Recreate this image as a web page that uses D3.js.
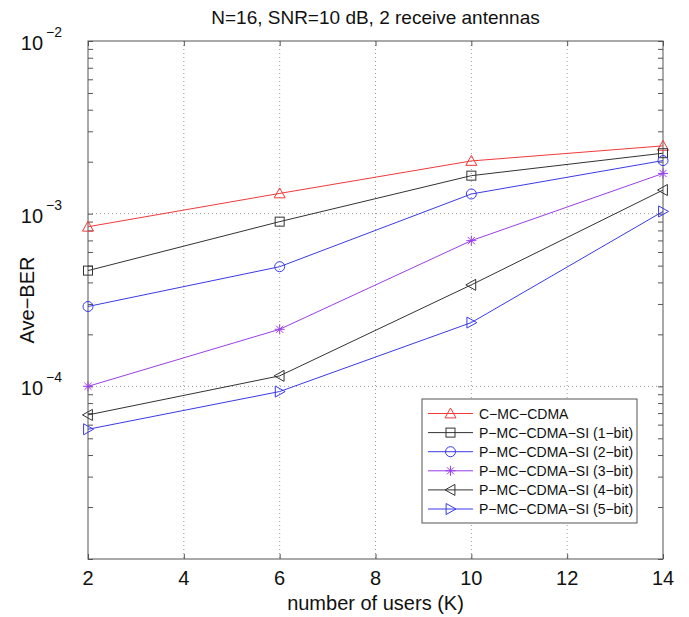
<!DOCTYPE html>
<html>
<head>
<meta charset="utf-8">
<script src="https://cdn.jsdelivr.net/npm/d3@7"></script>
<style>
  html, body { margin: 0; padding: 0; background: #fff; }
  text { font-family: "Liberation Sans", Arial, sans-serif; }
</style>
</head>
<body>
<svg id="chart" width="689" height="617"></svg>
<script>
// ---- data ----
const users = [2, 6, 10, 14];
const xTicks = [2, 4, 6, 8, 10, 12, 14];
const yDecades = [-5, -4, -3, -2];
const yTickLabels = ["", "−4", "−3", "−2"];
const seriesNames = [
  "C−MC−CDMA",
  "P−MC−CDMA−SI (1−bit)",
  "P−MC−CDMA−SI (2−bit)",
  "P−MC−CDMA−SI (3−bit)",
  "P−MC−CDMA−SI (4−bit)",
  "P−MC−CDMA−SI (5−bit)"
];
const cMcCdma = [8.4e-4, 1.31e-3, 2.02e-3, 2.47e-3];
const bit1 = [4.68e-4, 8.99e-4, 1.66e-3, 2.24e-3];
const bit2 = [2.9e-4, 4.93e-4, 1.30e-3, 2.03e-3];
const bit3 = [1.0e-4, 2.14e-4, 6.98e-4, 1.71e-3];
const bit4 = [6.83e-5, 1.15e-4, 3.87e-4, 1.37e-3];
const bit5 = [5.64e-5, 9.33e-5, 2.34e-4, 1.03e-3];
const seriesValues = [cMcCdma, bit1, bit2, bit3, bit4, bit5];
const seriesColors = ["#f03a3a", "#333333", "#3a3ae8", "#9b3ee8", "#333333", "#3a3ae8"];
const seriesMarkers = ["triUp", "square", "circle", "star", "triLeft", "triRight"];

// ---- layout ----
const L = 88, R = 663, T = 41, B = 559;
const svg = d3.select("#chart");
const x = d3.scaleLinear().domain([2, 14]).range([L, R]);
const y = d3.scaleLog().domain([1e-5, 1e-2]).range([B, T]);
const axisColor = "#555";

// grid
const g = svg.append("g");
g.selectAll(".vg").data(xTicks.slice(1, -1)).enter().append("line")
  .attr("x1", d => x(d)).attr("x2", d => x(d)).attr("y1", T).attr("y2", B)
  .attr("stroke", "#999").attr("stroke-width", 1).attr("stroke-dasharray", "1,3");
g.selectAll(".hg").data([-4, -3]).enter().append("line")
  .attr("x1", L).attr("x2", R).attr("y1", d => y(Math.pow(10, d))).attr("y2", d => y(Math.pow(10, d)))
  .attr("stroke", "#999").attr("stroke-width", 1).attr("stroke-dasharray", "1,3");

// axes with inward ticks
const axB = d3.axisBottom(x).tickValues(xTicks).tickSize(-5).tickFormat("");
const axT = d3.axisTop(x).tickValues(xTicks).tickSize(-5).tickFormat("");
const minorVals = [];
yDecades.forEach(e => { for (let m = 1; m <= 9; m++) { const v = m * Math.pow(10, e); if (v >= 1e-5 && v <= 1e-2) minorVals.push(v); } });
const axL = d3.axisLeft(y).tickValues(minorVals).tickSize(-5).tickFormat("");
const axR = d3.axisRight(y).tickValues(minorVals).tickSize(-5).tickFormat("");
[[axB, `translate(0,${B})`], [axT, `translate(0,${T})`], [axL, `translate(${L},0)`], [axR, `translate(${R},0)`]].forEach(([a, tr]) => {
  const ga = svg.append("g").attr("transform", tr).call(a);
  ga.select(".domain").remove();
  ga.selectAll("line").attr("stroke", axisColor);
});
svg.append("rect").attr("x", L).attr("y", T).attr("width", R - L).attr("height", B - T)
  .attr("fill", "none").attr("stroke", axisColor).attr("stroke-width", 1);

// x tick labels
svg.selectAll(".xl").data(xTicks).enter().append("text")
  .attr("x", d => x(d)).attr("y", 585).attr("text-anchor", "middle")
  .attr("font-size", 20).attr("fill", "#111").text(d => d);

// y tick labels
yDecades.forEach((e, i) => {
  if (!yTickLabels[i]) return;
  const yy = y(Math.pow(10, e));
  const t = svg.append("text").attr("x", 62).attr("y", yy + 9).attr("text-anchor", "end")
    .attr("font-size", 20).attr("fill", "#111");
  t.append("tspan").text("10");
  t.append("tspan").attr("dx", 3).attr("dy", -13).attr("font-size", 14).text(yTickLabels[i]);
});

// title and axis labels
svg.append("text").attr("x", (L + R) / 2).attr("y", 24).attr("text-anchor", "middle")
  .attr("font-size", 19).attr("fill", "#111").text("N=16, SNR=10 dB, 2 receive antennas");
svg.append("text").attr("x", (L + R) / 2).attr("y", 610).attr("text-anchor", "middle")
  .attr("font-size", 20).attr("fill", "#111").text("number of users (K)");
svg.append("text").attr("transform", `translate(34,${(T + B) / 2}) rotate(-90)`)
  .attr("text-anchor", "middle").attr("font-size", 20).attr("fill", "#111").text("Ave−BER");

// markers
function drawMarker(sel, type, color, cx, cy) {
  const s = 5.5;
  let el;
  if (type === "triUp") {
    el = sel.append("path").attr("d", `M${cx},${cy - s}L${cx + s},${cy + s * 0.8}L${cx - s},${cy + s * 0.8}Z`);
  } else if (type === "triLeft") {
    el = sel.append("path").attr("d", `M${cx - s},${cy}L${cx + s * 0.8},${cy - s}L${cx + s * 0.8},${cy + s}Z`);
  } else if (type === "triRight") {
    el = sel.append("path").attr("d", `M${cx + s},${cy}L${cx - s * 0.8},${cy - s}L${cx - s * 0.8},${cy + s}Z`);
  } else if (type === "square") {
    el = sel.append("rect").attr("x", cx - 4.5).attr("y", cy - 4.5).attr("width", 9).attr("height", 9);
  } else if (type === "circle") {
    el = sel.append("circle").attr("cx", cx).attr("cy", cy).attr("r", 5);
  } else if (type === "star") {
    const r = 5;
    const p = [];
    for (let k = 0; k < 4; k++) {
      const a = k * Math.PI / 4;
      p.push(`M${cx - r * Math.cos(a)},${cy - r * Math.sin(a)}L${cx + r * Math.cos(a)},${cy + r * Math.sin(a)}`);
    }
    el = sel.append("path").attr("d", p.join(""));
  }
  el.attr("fill", "none").attr("stroke", color).attr("stroke-width", 1);
}

const line = d3.line().x((d, i) => x(users[i])).y(d => y(d));
seriesValues.forEach((vals, si) => {
  const gs = svg.append("g");
  gs.append("path").datum(vals).attr("d", line).attr("fill", "none")
    .attr("stroke", seriesColors[si]).attr("stroke-width", 1);
  vals.forEach((v, i) => drawMarker(gs, seriesMarkers[si], seriesColors[si], x(users[i]), y(v)));
});

// legend
const lg = svg.append("g");
lg.append("rect").attr("x", 422).attr("y", 399).attr("width", 215).attr("height", 124)
  .attr("fill", "#fff").attr("stroke", axisColor).attr("stroke-width", 1);
seriesNames.forEach((name, i) => {
  const ly = 413.5 + i * 19.1;
  lg.append("line").attr("x1", 428).attr("x2", 473).attr("y1", ly).attr("y2", ly)
    .attr("stroke", seriesColors[i]).attr("stroke-width", 1);
  drawMarker(lg, seriesMarkers[i], seriesColors[i], 450.5, ly);
  lg.append("text").attr("x", 479).attr("y", ly + 5).attr("font-size", 14)
    .attr("fill", "#111").text(name);
});
</script>
</body>
</html>
